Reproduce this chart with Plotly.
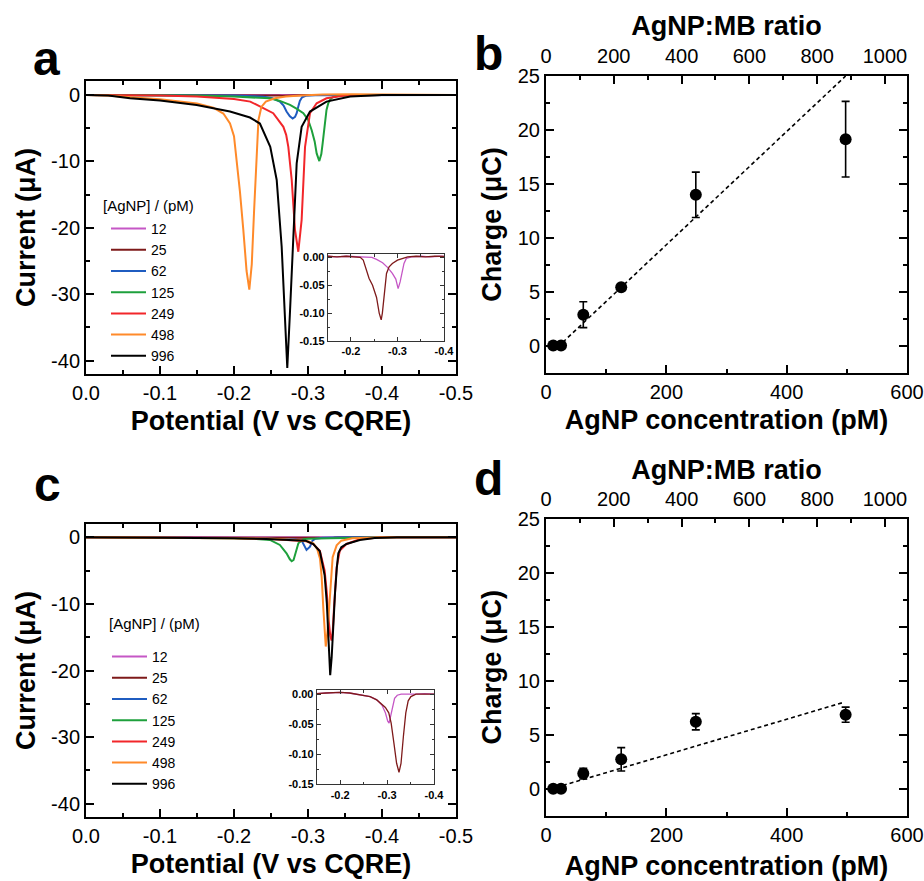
import plotly.graph_objects as go

FONT = "Arial, 'Liberation Sans', sans-serif"
W, H = 924, 881

# ---------------- data ----------------
labels = ["12", "25", "62", "125", "249", "498", "996"]
colors = ["#c557c5", "#7e1a1a", "#1f5cc0", "#1ea03c", "#f2262a", "#ff8a2a", "#000000"]

# Panel a: stripping voltammograms (V vs CQRE, uA)
a12_v = [0, -0.1, -0.15, -0.17, -0.19, -0.21, -0.23, -0.245, -0.255, -0.268, -0.2786, -0.289, -0.2964, -0.3014, -0.3057, -0.309, -0.314, -0.319, -0.33, -0.35, -0.37, -0.39, -0.40, -0.45, -0.5]
a12_i = [0, 0, 0.002, 0.001, 0.002, 0.001, 0.001, 0.0, -0.0036, -0.0096, -0.018, -0.0287, -0.039, -0.056, -0.044, -0.029, -0.011, -0.002, 0.001, 0.002, 0.001, 0.002, 0.001, 0, 0]
a25_v = [0, -0.1, -0.15, -0.17, -0.19, -0.21, -0.22, -0.2264, -0.232, -0.239, -0.2464, -0.251, -0.255, -0.2607, -0.2650, -0.2675, -0.270, -0.2735, -0.2764, -0.282, -0.289, -0.300, -0.311, -0.322, -0.34, -0.36, -0.38, -0.40, -0.45, -0.5]
a25_i = [0, 0, 0.002, 0.001, 0.002, 0.001, 0.0, -0.005, -0.02, -0.038, -0.05, -0.06, -0.072, -0.10, -0.112, -0.1, -0.077, -0.045, -0.029, -0.017, -0.011, -0.005, -0.002, 0.001, 0.002, 0.001, 0.002, 0.001, 0, 0]
a62_v = [0, -0.1, -0.15, -0.2, -0.225, -0.24, -0.252, -0.262, -0.267, -0.271, -0.2755, -0.2793, -0.2825, -0.2847, -0.287, -0.289, -0.292, -0.297, -0.31, -0.35, -0.5]
a62_i = [0, -0.02, -0.05, -0.1, -0.18, -0.28, -0.5, -1.0, -1.6, -2.5, -3.2, -3.55, -3.3, -2.75, -1.7, -0.9, -0.35, -0.12, -0.03, 0, 0]
a125_v = [0, -0.1, -0.15, -0.2, -0.23, -0.2486, -0.262, -0.2757, -0.285, -0.2937, -0.300, -0.305, -0.309, -0.3117, -0.3153, -0.318, -0.3198, -0.322, -0.325, -0.3275, -0.3297, -0.333, -0.34, -0.36, -0.4, -0.5]
a125_i = [0, -0.03, -0.1, -0.25, -0.4, -0.5, -0.9, -1.5, -2.1, -2.75, -3.7, -5.3, -7.0, -8.8, -9.95, -8.9, -7.3, -4.8, -2.25, -1.2, -0.75, -0.35, -0.15, -0.05, 0, 0]
a249_v = [0, -0.05, -0.1, -0.15, -0.2, -0.222, -0.2396, -0.253, -0.2667, -0.2705, -0.2734, -0.278, -0.2824, -0.2869, -0.2914, -0.296, -0.3027, -0.3117, -0.325, -0.35, -0.4, -0.5]
a249_i = [0, -0.02, -0.08, -0.25, -0.6, -1.0, -2.0, -2.75, -4.8, -6.0, -7.8, -12.8, -20.3, -23.6, -18.8, -7.8, -2.75, -1.25, -0.5, -0.1, 0, 0]
a498_v = [0, -0.03, -0.06, -0.1, -0.15, -0.172, -0.1856, -0.1946, -0.2, -0.2036, -0.208, -0.2126, -0.217, -0.2207, -0.224, -0.227, -0.230, -0.233, -0.237, -0.243, -0.255, -0.27, -0.29, -0.32, -0.36, -0.4, -0.5]
a498_i = [0, -0.08, -0.35, -0.65, -1.3, -1.9, -2.8, -4.3, -6.2, -9.8, -14.5, -20.3, -26.5, -29.3, -25.5, -17.8, -10.0, -3.8, -1.8, -1.0, -0.5, -0.25, -0.1, 0.05, 0.1, 0.05, 0]
a996_v = [0, -0.03, -0.0595, -0.1, -0.1495, -0.1946, -0.2216, -0.235, -0.249, -0.2577, -0.2644, -0.2685, -0.272, -0.2755, -0.280, -0.2847, -0.2914, -0.3027, -0.325, -0.357, -0.4, -0.5]
a996_i = [0, -0.1, -0.5, -0.85, -1.5, -2.5, -3.4, -4.3, -7.8, -12.8, -22.8, -33, -41.1, -33, -22.8, -10.3, -4.8, -2.5, -1.0, -0.25, 0, 0]

# Panel c
c12_v = [0, -0.1, -0.15, -0.17, -0.2, -0.22, -0.242, -0.2638, -0.278, -0.289, -0.2964, -0.3014, -0.3043, -0.308, -0.3116, -0.316, -0.3217, -0.33, -0.36, -0.38, -0.4, -0.45, -0.5]
c12_i = [0, 0, 0.001, 0.002, 0.003, 0.002, -0.001, -0.004, -0.0095, -0.018, -0.031, -0.045, -0.048, -0.036, -0.0196, -0.007, -0.0017, 0.0, 0.0, 0.001, 0.0, 0, 0]
c25_v = [0, -0.1, -0.15, -0.17, -0.2, -0.22, -0.242, -0.2638, -0.278, -0.289, -0.2964, -0.3036, -0.3087, -0.3145, -0.3203, -0.3254, -0.3297, -0.3348, -0.3399, -0.345, -0.3507, -0.3616, -0.3725, -0.387, -0.4, -0.45, -0.5]
c25_i = [0, 0, 0.001, 0.002, 0.003, 0.002, -0.001, -0.004, -0.0095, -0.017, -0.022, -0.031, -0.048, -0.081, -0.115, -0.130, -0.115, -0.07, -0.031, -0.011, -0.004, 0.0, 0.0005, 0.0, 0.0, 0, 0]
c62_v = [0, -0.1, -0.2, -0.25, -0.28, -0.2914, -0.2946, -0.298, -0.3027, -0.306, -0.31, -0.32, -0.35, -0.4, -0.5]
c62_i = [0, -0.03, -0.1, -0.2, -0.3, -0.5, -1.2, -1.9, -1.4, -0.5, -0.2, -0.05, 0, 0, 0]
c125_v = [0, -0.1, -0.15, -0.199, -0.23, -0.2486, -0.262, -0.271, -0.2755, -0.278, -0.2805, -0.2824, -0.287, -0.2937, -0.30, -0.33, -0.38, -0.42, -0.5]
c125_i = [0, -0.02, -0.06, -0.15, -0.25, -0.4, -1.15, -2.4, -3.3, -3.6, -3.4, -2.7, -0.9, -0.3, -0.2, -0.15, -0.08, 0, 0]
c249_v = [0, -0.1, -0.2, -0.25, -0.28, -0.298, -0.307, -0.316, -0.3225, -0.3253, -0.328, -0.330, -0.3318, -0.3335, -0.3351, -0.3387, -0.343, -0.352, -0.37, -0.4, -0.5]
c249_i = [0, -0.05, -0.12, -0.25, -0.4, -0.6, -1.0, -2.0, -5.0, -8.2, -12.5, -14.7, -15.5, -14.0, -10.7, -4.5, -2.0, -1.0, -0.3, 0, 0]
c498_v = [0, -0.1, -0.2, -0.25, -0.28, -0.3, -0.3072, -0.3125, -0.3162, -0.3185, -0.3207, -0.3225, -0.324, -0.3265, -0.3297, -0.3333, -0.3387, -0.345, -0.36, -0.4, -0.5]
c498_i = [0, -0.08, -0.1, -0.2, -0.35, -0.6, -0.9, -1.8, -3.2, -6.0, -10.7, -14.5, -16.4, -14.0, -8.2, -3.0, -1.2, -0.5, -0.15, 0, 0]
c996_v = [0, -0.1, -0.2, -0.2437, -0.28, -0.2967, -0.3072, -0.316, -0.3225, -0.3255, -0.328, -0.330, -0.332, -0.3345, -0.3365, -0.339, -0.341, -0.345, -0.352, -0.37, -0.39, -0.42, -0.5]
c996_i = [0, -0.05, -0.15, -0.25, -0.35, -0.5, -1.0, -2.1, -5.7, -10.0, -16.0, -20.7, -18.0, -12.0, -8.4, -4.5, -2.4, -1.5, -1.0, -0.4, -0.1, 0, 0]

# Panels b, d: charge vs concentration
conc = [12, 25, 62, 125, 249, 498]
b_charge = [0.05, 0.05, 2.9, 5.45, 14.0, 19.15]
b_err = [0, 0, 1.2, 0.1, 2.1, 3.5]
b_fit_x = [28, 498]
b_fit_y = [0.35, 25.0]
d_charge = [0.0, 0.0, 1.4, 2.72, 6.2, 6.85]
d_err = [0, 0, 0.5, 1.08, 0.75, 0.7]
d_fit_x = [28, 492]
d_fit_y = [0.3, 7.95]
ratio_range = [0, 1065]

pot_ticks = [0, -0.1, -0.2, -0.3, -0.4, -0.5]
pot_text = ["0.0", "-0.1", "-0.2", "-0.3", "-0.4", "-0.5"]
cur_ticks = [0, -10, -20, -30, -40]
cur_text = ["0", "-10", "-20", "-30", "-40"]
ins_xt = [-0.2, -0.3, -0.4]
ins_xtext = ["-0.2", "-0.3", "-0.4"]
ins_yt = [0, -0.05, -0.10, -0.15]
ins_ytext = ["0.00", "-0.05", "-0.10", "-0.15"]

a_sets = [(a12_v, a12_i), (a25_v, a25_i), (a62_v, a62_i), (a125_v, a125_i),
          (a249_v, a249_i), (a498_v, a498_i), (a996_v, a996_i)]
c_sets = [(c12_v, c12_i), (c25_v, c25_i), (c62_v, c62_i), (c125_v, c125_i),
          (c249_v, c249_i), (c498_v, c498_i), (c996_v, c996_i)]

fig = go.Figure()

for (v, i), lab, col in zip(a_sets, labels, colors):
    fig.add_trace(go.Scatter(x=v, y=i, mode="lines", name=lab, line=dict(color=col, width=2),
                             xaxis="x", yaxis="y", legend="legend"))
for (v, i), lab, col in zip(c_sets, labels, colors):
    fig.add_trace(go.Scatter(x=v, y=i, mode="lines", name=lab, line=dict(color=col, width=2),
                             xaxis="x4", yaxis="y4", legend="legend2"))
# insets
for (v, i), col in zip(a_sets[:2], colors[:2]):
    fig.add_trace(go.Scatter(x=v, y=i, mode="lines", line=dict(color=col, width=1.3),
                             xaxis="x7", yaxis="y7", showlegend=False))
for (v, i), col in zip(c_sets[:2], colors[:2]):
    fig.add_trace(go.Scatter(x=v, y=i, mode="lines", line=dict(color=col, width=1.3),
                             xaxis="x8", yaxis="y8", showlegend=False))

# b, d
for xa, xt, ya, ch, er, fx, fy in [("x2", "x3", "y2", b_charge, b_err, b_fit_x, b_fit_y),
                                   ("x5", "x6", "y5", d_charge, d_err, d_fit_x, d_fit_y)]:
    fig.add_trace(go.Scatter(x=fx, y=fy, mode="lines", line=dict(color="black", width=1.6, dash="4px,3px"),
                             xaxis=xa, yaxis=ya, showlegend=False))
    fig.add_trace(go.Scatter(x=conc, y=ch, mode="markers", marker=dict(color="black", size=12),
                             error_y=dict(type="data", array=er, color="black", thickness=1.6, width=4),
                             xaxis=xa, yaxis=ya, showlegend=False))
    # empty carrier so the top (ratio) axis is drawn
    fig.add_trace(go.Scatter(x=ratio_range, y=[None, None], mode="lines", xaxis=xt, yaxis=ya,
                             showlegend=False, hoverinfo="skip"))


def px_x(p):
    return p / W


def px_y(p):
    return 1 - p / H


main_common = dict(showline=True, linecolor="black", linewidth=2, ticks="inside", ticklen=8,
                   tickwidth=1.5, tickcolor="black", showgrid=False, zeroline=False, automargin=False,
                   tickfont=dict(family=FONT, size=20, color="black"))
minor_common = dict(ticks="inside", ticklen=4, tickwidth=1.5, tickcolor="black", showgrid=False)
title_font = dict(family=FONT, size=27, color="black")

lay = dict(
    template="none",
    width=W, height=H, margin=dict(l=0, r=0, t=0, b=0, pad=0),
    paper_bgcolor="white", plot_bgcolor="rgba(0,0,0,0)",
    font=dict(family=FONT, color="black"),
)

# panel a
lay["xaxis"] = dict(main_common, domain=[px_x(86), px_x(456)], anchor="y", range=[0, -0.5],
                    mirror="ticks", tickmode="array", tickvals=pot_ticks, ticktext=pot_text,
                    minor=dict(minor_common, tickmode="linear", tick0=0, dtick=0.05),
                    title=dict(text="<b>Potential (V vs CQRE)</b>", font=title_font, standoff=8))
lay["yaxis"] = dict(main_common, domain=[px_y(374), px_y(81)], anchor="x", range=[-42, 2.1],
                    mirror="ticks", tickmode="array", tickvals=cur_ticks, ticktext=cur_text,
                    minor=dict(minor_common, tickmode="linear", tick0=0, dtick=5),
                    title=dict(text="<b>Current (μA)</b>", font=title_font, standoff=8))
# panel c
lay["xaxis4"] = dict(main_common, domain=[px_x(86), px_x(456)], anchor="y4", range=[0, -0.5],
                     mirror="ticks", tickmode="array", tickvals=pot_ticks, ticktext=pot_text,
                     minor=dict(minor_common, tickmode="linear", tick0=0, dtick=0.05),
                     title=dict(text="<b>Potential (V vs CQRE)</b>", font=title_font, standoff=8))
lay["yaxis4"] = dict(main_common, domain=[px_y(817), px_y(524)], anchor="x4", range=[-42, 2.0],
                     mirror="ticks", tickmode="array", tickvals=cur_ticks, ticktext=cur_text,
                     minor=dict(minor_common, tickmode="linear", tick0=0, dtick=5),
                     title=dict(text="<b>Current (μA)</b>", font=title_font, standoff=8))
# panels b, d
for xa, ya, xt, yspan, xt_st, top_st in [("xaxis2", "yaxis2", "xaxis3", (373, 76), 8, 1),
                                         ("xaxis5", "yaxis5", "xaxis6", (815.7, 518.7), 14, 0)]:
    xs, ys = xa.replace("axis", ""), ya.replace("axis", "")
    lay[xa] = dict(main_common, domain=[px_x(546), px_x(907)], anchor=ys, range=[0, 600],
                   mirror=True, dtick=200,
                   minor=dict(minor_common, dtick=100),
                   title=dict(text="<b>AgNP concentration (pM)</b>", font=title_font, standoff=xt_st))
    lay[ya] = dict(main_common, domain=[px_y(yspan[0]), px_y(yspan[1])], anchor=xs, range=[-2.5, 25],
                   mirror="ticks", dtick=5,
                   minor=dict(minor_common, dtick=2.5),
                   title=dict(text="<b>Charge (μC)</b>", font=title_font, standoff=8))
    lay[xt] = dict(main_common, showline=False, overlaying=xs, side="top", anchor=ys,
                   range=ratio_range, dtick=200, mirror=False, ticklabelstandoff=8,
                   minor=dict(minor_common, dtick=100),
                   title=dict(text="<b>AgNP:MB ratio</b>", font=title_font, standoff=top_st))

ins_common = dict(showline=True, linecolor="#333", linewidth=1, mirror="ticks", ticks="inside",
                  ticklen=4, tickwidth=1, tickcolor="#333", showgrid=False, zeroline=False, automargin=False,
                  tickfont=dict(family=FONT, size=11, color="black", weight="bold"))
ins_minor = dict(ticks="inside", ticklen=2.5, tickwidth=1, tickcolor="#333", showgrid=False)
lay["xaxis7"] = dict(ins_common, domain=[px_x(327.7), px_x(444)], anchor="y7", range=[-0.15, -0.4],
                     tickmode="array", tickvals=ins_xt, ticktext=ins_xtext,
                     minor=dict(ins_minor, tickmode="linear", tick0=0, dtick=0.05))
lay["yaxis7"] = dict(ins_common, domain=[px_y(341), px_y(254)], anchor="x7", range=[-0.15, 0.006],
                     tickmode="array", tickvals=ins_yt, ticktext=ins_ytext,
                     minor=dict(ins_minor, tickmode="linear", tick0=0, dtick=0.025))
lay["xaxis8"] = dict(ins_common, domain=[px_x(316.7), px_x(434)], anchor="y8", range=[-0.15, -0.4],
                     tickmode="array", tickvals=ins_xt, ticktext=ins_xtext,
                     minor=dict(ins_minor, tickmode="linear", tick0=0, dtick=0.05))
lay["yaxis8"] = dict(ins_common, domain=[px_y(784.3), px_y(690)], anchor="x8", range=[-0.15, 0.007],
                     tickmode="array", tickvals=ins_yt, ticktext=ins_ytext,
                     minor=dict(ins_minor, tickmode="linear", tick0=0, dtick=0.025))

leg_common = dict(bgcolor="rgba(0,0,0,0)", borderwidth=0, font=dict(family=FONT, size=14, color="black"),
                  xanchor="left", yanchor="top", traceorder="normal", tracegroupgap=0, itemwidth=35)
lay["legend"] = dict(leg_common, x=px_x(106), y=px_y(213))
lay["legend2"] = dict(leg_common, x=px_x(107), y=px_y(641))

fig.update_layout(**lay)

# inset backgrounds
for xa, ya in [("x7", "y7"), ("x8", "y8")]:
    fig.add_shape(type="rect", xref=xa + " domain", yref=ya + " domain", x0=0, x1=1, y0=0, y1=1,
                  fillcolor="white", line=dict(width=0), layer="below")

ann = []
for text, x, y in [("a", 46, 58), ("b", 488, 54), ("c", 47, 484), ("d", 488, 479)]:
    ann.append(dict(text=f"<b>{text}</b>", x=px_x(x), y=px_y(y), xref="paper", yref="paper",
                    showarrow=False, xanchor="center", yanchor="middle",
                    font=dict(family=FONT, size=48, color="black")))
for x, y in [(101, 205), (107, 623)]:
    ann.append(dict(text="[AgNP] / (pM)", x=px_x(x), y=px_y(y), xref="paper", yref="paper",
                    showarrow=False, xanchor="left", yanchor="middle",
                    font=dict(family=FONT, size=15, color="black")))
fig.update_layout(annotations=ann)

# remove the page's default 8px body margin so the figure fills the window exactly
fig.write_html("out.html",
               config={"displayModeBar": False},
               post_script="document.body.style.margin='0';document.body.style.overflow='hidden';")
